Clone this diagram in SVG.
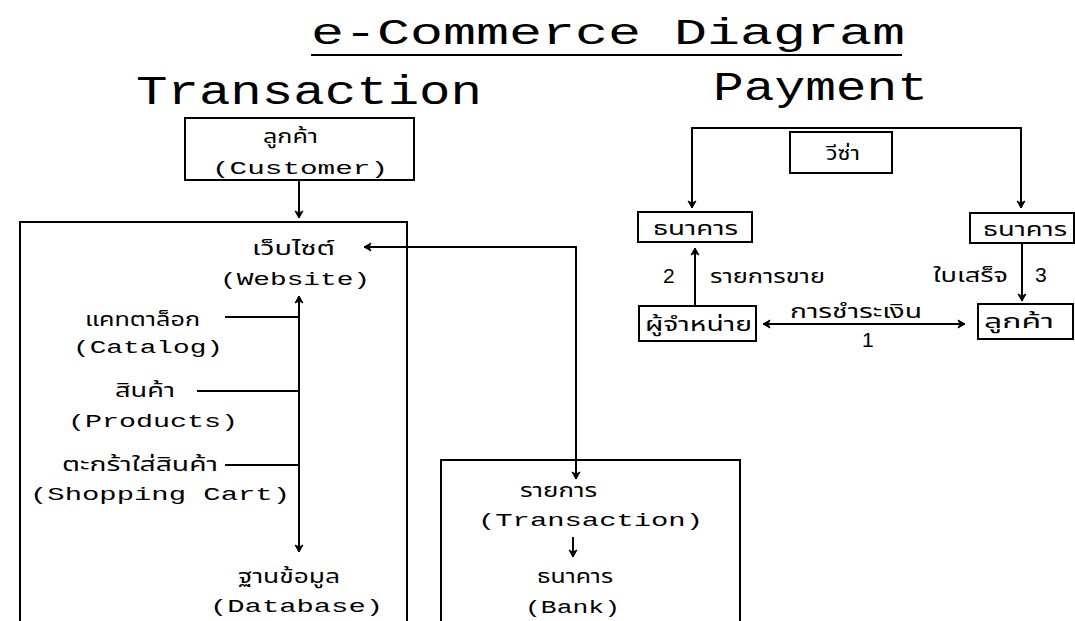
<svg xmlns="http://www.w3.org/2000/svg" width="1075" height="621" viewBox="0 0 1075 621">
  <style>
    text { font-family: "Liberation Mono", "Noto Sans Thai", "Noto Sans", "DejaVu Sans", monospace; fill: #000; }
    .title { font-size: 36px; }
    .head { font-size: 40px; }
    .en { font-size: 18px; }
    .th { font-size: 19px; }
    .num { font-family: "Liberation Sans", "DejaVu Sans", sans-serif; font-size: 21px; }
    .box { fill: none; stroke: #000; stroke-width: 2; }
    .ln { fill: none; stroke: #000; stroke-width: 2; }
  </style>
  <defs>
    <marker id="arrow" markerUnits="userSpaceOnUse" markerWidth="12" markerHeight="12" viewBox="-8 -6 10 12" refX="0" refY="0" orient="auto-start-reverse">
      <path d="M0,0 L-7,-4 L-5,0 L-7,4 Z" fill="#000" stroke="#000" stroke-width="1"/>
    </marker>
  </defs>
  <rect width="1075" height="621" fill="#fff"/>

  <!-- headings -->
  <g id="headings">
    <text class="title" x="311" y="44" textLength="594" lengthAdjust="spacingAndGlyphs">e-Commerce Diagram</text>
    <line x1="311" y1="55" x2="902" y2="55" stroke="#000" stroke-width="2"/>
    <text class="head" x="136" y="104" textLength="346" lengthAdjust="spacingAndGlyphs">Transaction</text>
    <text class="head" x="713" y="100" textLength="215" lengthAdjust="spacingAndGlyphs">Payment</text>
  </g>

  <!-- Transaction side -->
  <g id="customer">
    <rect class="box" x="185" y="118" width="229" height="62"/>
    <text class="th" x="263" y="143" textLength="55" lengthAdjust="spacingAndGlyphs">ลูกค้า</text>
    <text class="en" x="212" y="174" textLength="176" lengthAdjust="spacingAndGlyphs">(Customer)</text>
  </g>

  <g id="site-frame">
    <rect class="box" x="20" y="222" width="387" height="420"/>
  </g>

  <g id="website">
    <text class="th" x="252" y="255" textLength="83" lengthAdjust="spacingAndGlyphs">เว็บไซต์</text>
    <text class="en" x="220" y="285" textLength="150" lengthAdjust="spacingAndGlyphs">(Website)</text>
  </g>

  <g id="catalog">
    <text class="th" x="85" y="326" textLength="115" lengthAdjust="spacingAndGlyphs">แคทตาล็อก</text>
    <text class="en" x="73" y="353" textLength="150" lengthAdjust="spacingAndGlyphs">(Catalog)</text>
  </g>

  <g id="products">
    <text class="th" x="115" y="397" textLength="60" lengthAdjust="spacingAndGlyphs">สินค้า</text>
    <text class="en" x="68" y="427" textLength="170" lengthAdjust="spacingAndGlyphs">(Products)</text>
  </g>

  <g id="cart">
    <text class="th" x="62" y="471" textLength="156" lengthAdjust="spacingAndGlyphs">ตะกร้าใส่สินค้า</text>
    <text class="en" x="30" y="500" textLength="260" lengthAdjust="spacingAndGlyphs">(Shopping Cart)</text>
  </g>

  <g id="database">
    <text class="th" x="238" y="583" textLength="102" lengthAdjust="spacingAndGlyphs">ฐานข้อมูล</text>
    <text class="en" x="210" y="612" textLength="173" lengthAdjust="spacingAndGlyphs">(Database)</text>
  </g>

  <g id="transaction">
    <rect class="box" x="441" y="460" width="299" height="180"/>
    <text class="th" x="520" y="497" textLength="77" lengthAdjust="spacingAndGlyphs">รายการ</text>
    <text class="en" x="478" y="526" textLength="225" lengthAdjust="spacingAndGlyphs">(Transaction)</text>
    <text class="th" x="537" y="583" textLength="76" lengthAdjust="spacingAndGlyphs">ธนาคาร</text>
    <text class="en" x="525" y="613" textLength="95" lengthAdjust="spacingAndGlyphs">(Bank)</text>
  </g>

  <!-- Payment side -->
  <g id="visa">
    <rect class="box" x="790" y="132" width="102" height="41"/>
    <text class="th" x="826" y="160" textLength="34" lengthAdjust="spacingAndGlyphs">วีซ่า</text>
  </g>

  <g id="bank-merchant">
    <rect class="box" x="638" y="212" width="114" height="30"/>
    <text class="th" x="653" y="235" textLength="85" lengthAdjust="spacingAndGlyphs">ธนาคาร</text>
  </g>

  <g id="bank-customer">
    <rect class="box" x="970" y="213" width="104" height="30"/>
    <text class="th" x="983" y="236" textLength="84" lengthAdjust="spacingAndGlyphs">ธนาคาร</text>
  </g>

  <g id="merchant">
    <rect class="box" x="639" y="306" width="117" height="35"/>
    <text class="th" x="645" y="331" textLength="107" lengthAdjust="spacingAndGlyphs">ผู้จำหน่าย</text>
  </g>

  <g id="buyer">
    <rect class="box" x="978" y="304" width="95" height="35"/>
    <text class="th" x="984" y="328" textLength="70" lengthAdjust="spacingAndGlyphs">ลูกค้า</text>
  </g>

  <!-- connectors -->
  <g id="connectors">
    <path class="ln" d="M299,180 V218" marker-end="url(#arrow)"/>
    <path class="ln" d="M299,296 V552" marker-start="url(#arrow)" marker-end="url(#arrow)"/>
    <path class="ln" d="M225,317 H299"/>
    <path class="ln" d="M197,391 H299"/>
    <path class="ln" d="M225,465 H299"/>
    <path class="ln" d="M364,247 H576 V479" marker-start="url(#arrow)" marker-end="url(#arrow)"/>
    <path class="ln" d="M573,537 V557" marker-end="url(#arrow)"/>

    <path class="ln" d="M692,208 V128 H1021 V208" marker-start="url(#arrow)" marker-end="url(#arrow)"/>
    <path class="ln" d="M695,305 V248" marker-end="url(#arrow)"/>
    <path class="ln" d="M763,324 H965" marker-start="url(#arrow)" marker-end="url(#arrow)"/>
    <path class="ln" d="M1022,244 V301" marker-end="url(#arrow)"/>

    <text class="num" x="663" y="283">2</text>
    <text class="th" x="710" y="283" textLength="115" lengthAdjust="spacingAndGlyphs">รายการขาย</text>
    <text class="th" x="790" y="318" textLength="132" lengthAdjust="spacingAndGlyphs">การชำระเงิน</text>
    <text class="num" x="862" y="347">1</text>
    <text class="th" x="933" y="282" textLength="75" lengthAdjust="spacingAndGlyphs">ใบเสร็จ</text>
    <text class="num" x="1035" y="282">3</text>
  </g>
</svg>
